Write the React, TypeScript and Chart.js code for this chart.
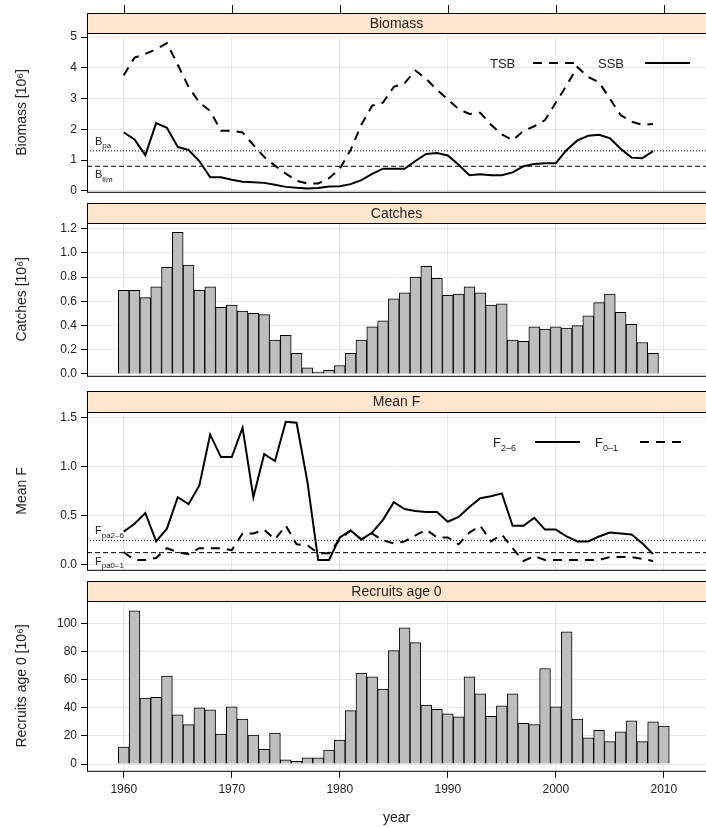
import React, { useEffect, useRef } from "react";
import { Chart, registerables } from "chart.js";

Chart.register(...registerables);

// ---- data ----
const years = [
  1960, 1961, 1962, 1963, 1964, 1965, 1966, 1967, 1968, 1969, 1970, 1971, 1972, 1973, 1974, 1975, 1976,
  1977, 1978, 1979, 1980, 1981, 1982, 1983, 1984, 1985, 1986, 1987, 1988, 1989, 1990, 1991, 1992, 1993,
  1994, 1995, 1996, 1997, 1998, 1999, 2000, 2001, 2002, 2003, 2004, 2005, 2006, 2007, 2008, 2009,
];
const recruitYears = [...years, 2010];

const ssb = [
  1.9, 1.67, 1.16, 2.2, 2.05, 1.43, 1.33, 0.97, 0.44, 0.44, 0.36, 0.3, 0.28, 0.26, 0.2, 0.13, 0.1, 0.08,
  0.09, 0.14, 0.15, 0.22, 0.35, 0.55, 0.72, 0.72, 0.72, 0.97, 1.2, 1.23, 1.15, 0.85, 0.51, 0.54, 0.51,
  0.51, 0.6, 0.8, 0.87, 0.9, 0.9, 1.33, 1.64, 1.79, 1.82, 1.71, 1.37, 1.08, 1.06, 1.29,
];
const tsb = [
  3.76, 4.33, 4.45, 4.6, 4.8, 4.1, 3.38, 2.87, 2.6, 1.95, 1.95, 1.9, 1.49, 1.1, 0.82, 0.56, 0.33, 0.24,
  0.24, 0.41, 0.72, 1.33, 2.15, 2.77, 2.87, 3.38, 3.5, 3.91, 3.64, 3.28, 2.97, 2.66, 2.5, 2.54, 2.15,
  1.84, 1.64, 1.95, 2.1, 2.3, 2.87, 3.43, 4.02, 3.7, 3.53, 3.0, 2.46, 2.25, 2.15, 2.17,
];
const bpa = 1.3;
const blim = 0.8;

const catches = [
  0.69, 0.69, 0.63, 0.72, 0.88, 1.17, 0.9, 0.69, 0.72, 0.55, 0.57, 0.52, 0.5, 0.49, 0.28, 0.32, 0.17,
  0.05, 0.015, 0.03, 0.07, 0.17, 0.28, 0.39, 0.44, 0.62, 0.67, 0.8, 0.89, 0.79, 0.65, 0.66, 0.72, 0.67,
  0.57, 0.58, 0.28, 0.27, 0.39, 0.37, 0.39, 0.38, 0.4, 0.48, 0.59, 0.66, 0.51, 0.41, 0.26, 0.17,
];

const f26 = [
  0.34, 0.42, 0.53, 0.24, 0.37, 0.69, 0.62, 0.81, 1.33, 1.1, 1.1, 1.4, 0.69, 1.13, 1.06, 1.46, 1.45,
  0.85, 0.05, 0.05, 0.28, 0.35, 0.26, 0.33, 0.46, 0.64, 0.57, 0.55, 0.54, 0.54, 0.44, 0.49, 0.59, 0.68,
  0.7, 0.73, 0.4, 0.4, 0.48, 0.36, 0.36, 0.29, 0.24, 0.24, 0.29, 0.33, 0.32, 0.31, 0.22, 0.11,
];
const f01 = [
  0.13, 0.05, 0.05, 0.07, 0.17, 0.13, 0.11, 0.17, 0.17, 0.17, 0.15, 0.32, 0.32, 0.36, 0.26, 0.4, 0.21,
  0.2, 0.12, 0.12, 0.26, 0.35, 0.26, 0.32, 0.25, 0.22, 0.24, 0.3, 0.36, 0.28, 0.28, 0.21, 0.33, 0.4,
  0.24, 0.31, 0.17, 0.04, 0.09, 0.05, 0.05, 0.05, 0.05, 0.05, 0.05, 0.08, 0.08, 0.08, 0.06, 0.04,
];
const fpa26 = 0.25;
const fpa01 = 0.125;

const recruits = [
  12, 109, 47, 47.4, 62.6, 35, 28, 40, 38.6, 21.4, 40.7, 32, 20.7, 10.5, 22, 3, 2, 4.5, 4.5, 10, 17, 38,
  64.8, 62, 53.3, 80.7, 97, 86.4, 42, 39, 35.7, 33.6, 62, 50, 34, 41.4, 50, 29, 28, 68, 40.7, 94, 32,
  18.6, 24, 16, 23, 30.7, 16, 30, 27,
];

const decadeTicks = [1960, 1970, 1980, 1990, 2000, 2010];
const X_MIN = 1956.6;
const X_MAX = 2013.9;
const FONT = "'Liberation Sans', Arial, sans-serif";
const INK = "#222";

const pts = (xs: number[], ys: number[]) => xs.map((x, i) => ({ x, y: ys[i] }));
const hline = (v: number) => [
  { x: X_MIN, y: v },
  { x: X_MAX, y: v },
];

type Lab = { base: string; sub: string; value: number; above: boolean };
type Leg = { base: string; sub?: string; dash: number[]; x: number; lineX: number };

function drawSub(ctx: CanvasRenderingContext2D, base: string, sub: string, x: number, y: number, size: number) {
  ctx.font = `${size}px ${FONT}`;
  ctx.fillText(base, x, y);
  const w = ctx.measureText(base).width;
  if (sub) {
    ctx.font = `${Math.round(size * 0.7)}px ${FONT}`;
    ctx.fillText(sub, x + w, y + size * 0.3);
  }
}

function panelPlugin(opt: { title: string; stripTop: number; topTicks?: boolean; labels?: Lab[]; legend?: Leg[] }) {
  return {
    id: "panel",
    afterDraw(chart: any) {
      const { ctx, chartArea: a, scales } = chart;
      ctx.save();
      // strip
      const st = opt.stripTop;
      const sh = a.top - st;
      ctx.fillStyle = "#FFE5CC";
      ctx.fillRect(a.left, st, a.right - a.left, sh);
      ctx.strokeStyle = "#000";
      ctx.lineWidth = 1;
      ctx.strokeRect(a.left + 0.5, st + 0.5, a.right - a.left, sh);
      ctx.fillStyle = INK;
      ctx.font = `14px ${FONT}`;
      ctx.textAlign = "center";
      ctx.textBaseline = "middle";
      ctx.fillText(opt.title, (a.left + a.right) / 2, st + sh / 2 + 1);
      // box
      ctx.strokeRect(a.left + 0.5, a.top + 0.5, a.right - a.left, a.bottom - a.top);
      // top ticks
      if (opt.topTicks) {
        ctx.beginPath();
        decadeTicks.forEach((t) => {
          const px = Math.round(scales.x.getPixelForValue(t)) + 0.5;
          ctx.moveTo(px, st - 8);
          ctx.lineTo(px, st);
        });
        ctx.stroke();
      }
      // reference labels
      ctx.textAlign = "left";
      ctx.textBaseline = "alphabetic";
      (opt.labels || []).forEach((l) => {
        const py = scales.y.getPixelForValue(l.value);
        drawSub(ctx, l.base, l.sub, a.left + 8, l.above ? py - 6 : py + 12, 11);
      });
      // legend
      (opt.legend || []).forEach((g) => {
        const ly = a.top + 30;
        ctx.fillStyle = INK;
        drawSub(ctx, g.base, g.sub || "", g.x, ly + 5, 13);
        ctx.beginPath();
        ctx.setLineDash(g.dash);
        ctx.lineWidth = 2;
        ctx.moveTo(g.lineX, ly);
        ctx.lineTo(g.lineX + 45, ly);
        ctx.stroke();
        ctx.setLineDash([]);
      });
      ctx.restore();
    },
  };
}

function yAxis(title: string, min: number, max: number, step: number, fmt?: (v: number) => string) {
  return {
    type: "linear",
    min,
    max,
    afterBuildTicks: (s: any) => {
      const out: any[] = [];
      for (let v = 0; v <= max + 1e-9; v += step) out.push({ value: Math.round(v * 1000) / 1000 });
      s.ticks = out;
    },
    afterFit: (s: any) => {
      s.width = 87;
    },
    border: { display: false },
    grid: { color: "#e8e8e8", tickColor: "#000", tickLength: 6 },
    ticks: {
      color: INK,
      font: { family: FONT, size: 12 },
      padding: 4,
      callback: (v: any) => (fmt ? fmt(Number(v)) : String(v)),
    },
    title: { display: true, text: title, color: INK, font: { family: FONT, size: 14 }, padding: { top: 14, bottom: 0 } },
  };
}

function xAxis(show: boolean) {
  return {
    type: "linear",
    min: X_MIN,
    max: X_MAX,
    offset: false,
    afterBuildTicks: (s: any) => {
      s.ticks = decadeTicks.map((value) => ({ value }));
    },
    border: { display: false },
    grid: { color: "#e8e8e8", tickColor: "#000", tickLength: 7, drawTicks: show, offset: false },
    ticks: {
      display: show,
      color: INK,
      font: { family: FONT, size: 12 },
      padding: 5,
      maxRotation: 0,
      callback: (v: any) => String(v),
    },
    title: { display: show, text: "year", color: INK, font: { family: FONT, size: 14 }, padding: { top: 8, bottom: 0 } },
  };
}

const lineDs = (data: any[], dash: number[], width = 2) => ({
  type: "line",
  data,
  borderColor: "#000",
  borderWidth: width,
  borderDash: dash,
  pointRadius: 0,
  fill: false,
  tension: 0,
});

const barDs = (data: any[]) => ({
  type: "bar",
  data,
  backgroundColor: "#bebebe",
  borderColor: "#000",
  borderWidth: 1,
  barPercentage: 1,
  categoryPercentage: 1,
  grouped: false,
});

const f1 = (v: number) => v.toFixed(1);

type PanelProps = { top: number; height: number; build: () => any };

const Panel = ({ top, height, build }: PanelProps) => {
  const ref = useRef<HTMLCanvasElement | null>(null);
  useEffect(() => {
    if (!ref.current) return;
    const chart = new Chart(ref.current, build());
    return () => chart.destroy();
  }, []);
  return (
    <div style={{ position: "absolute", left: 0, top, width: 706, height }}>
      <canvas ref={ref} width={706} height={height} style={{ width: 706, height }} />
    </div>
  );
};

const base = (datasets: any[], x: any, y: any, pad: any, plugin: any) => ({
  type: "bar",
  data: { datasets },
  options: {
    responsive: false,
    animation: false,
    layout: { padding: pad },
    plugins: { legend: { display: false }, tooltip: { enabled: false } },
    scales: { x, y },
  },
  plugins: [plugin],
});

const App = () => {
  useEffect(() => {
    document.body.style.margin = "0";
  }, []);
  return (
    <div style={{ position: "relative", width: 706, height: 827, background: "#fff" }}>
      <Panel
        top={0}
        height={203}
        build={() =>
          base(
            [
              lineDs(hline(bpa), [1, 2], 1),
              lineDs(hline(blim), [5, 3], 1),
              lineDs(pts(years, tsb), [9, 7]),
              lineDs(pts(years, ssb), []),
            ],
            xAxis(false),
            yAxis("Biomass [10⁶]", -0.03, 5.13, 1),
            { top: 33, bottom: 2, left: 0, right: 0 },
            panelPlugin({
              title: "Biomass",
              stripTop: 13,
              topTicks: true,
              labels: [
                { base: "B", sub: "pa", value: bpa, above: true },
                { base: "B", sub: "lim", value: blim, above: false },
              ],
              legend: [
                { base: "TSB", dash: [9, 7], x: 490, lineX: 533 },
                { base: "SSB", dash: [], x: 598, lineX: 645 },
              ],
            })
          )
        }
      />
      <Panel
        top={203}
        height={184}
        build={() =>
          base(
            [barDs(pts(years, catches))],
            xAxis(false),
            yAxis("Catches [10⁶]", -0.015, 1.247, 0.2, f1),
            { top: 20, bottom: 2, left: 0, right: 0 },
            panelPlugin({ title: "Catches", stripTop: 0 })
          )
        }
      />
      <Panel
        top={391}
        height={190}
        build={() =>
          base(
            [
              lineDs(hline(fpa26), [1, 2], 1),
              lineDs(hline(fpa01), [5, 3], 1),
              lineDs(pts(years, f01), [9, 7]),
              lineDs(pts(years, f26), []),
            ],
            xAxis(false),
            yAxis("Mean F", -0.05, 1.56, 0.5, f1),
            { top: 21, bottom: 2, left: 0, right: 0 },
            panelPlugin({
              title: "Mean F",
              stripTop: 0,
              labels: [
                { base: "F", sub: "pa2–6", value: fpa26, above: true },
                { base: "F", sub: "pa0–1", value: fpa01, above: false },
              ],
              legend: [
                { base: "F", sub: "2–6", dash: [], x: 493, lineX: 535 },
                { base: "F", sub: "0–1", dash: [9, 7], x: 595, lineX: 640 },
              ],
            })
          )
        }
      />
      <Panel
        top={581}
        height={246}
        build={() =>
          base(
            [barDs(pts(recruitYears, recruits))],
            xAxis(true),
            yAxis("Recruits age 0 [10⁶]", -4.8, 116, 20),
            { top: 20, bottom: 0, left: 0, right: 0 },
            panelPlugin({ title: "Recruits age 0", stripTop: 0 })
          )
        }
      />
    </div>
  );
};

export default App;
